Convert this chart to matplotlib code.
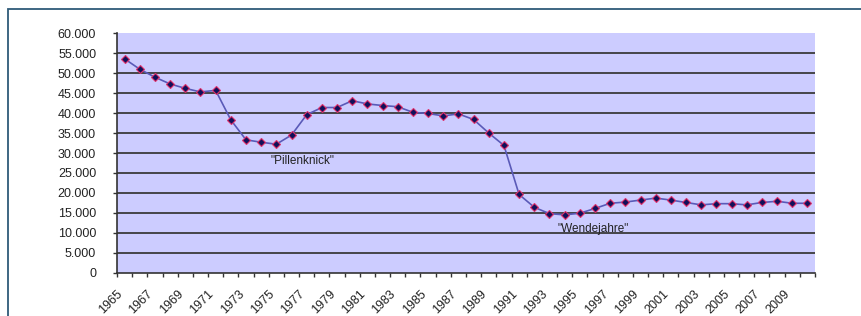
import matplotlib
matplotlib.use("Agg")
import matplotlib.pyplot as plt
from matplotlib.ticker import FuncFormatter, MultipleLocator, FixedLocator
from matplotlib.patches import Rectangle
from matplotlib.transforms import ScaledTranslation

years = list(range(1965, 2011))
births = [53.6, 51.0, 49.0, 47.3, 46.2, 45.3, 45.7, 38.3, 33.3, 32.7, 32.2, 34.5,
          39.6, 41.4, 41.4, 43.1, 42.3, 41.9, 41.6, 40.2, 39.9, 39.3, 39.8, 38.4,
          35.0, 31.9, 19.6, 16.4, 14.8, 14.5, 14.9, 16.1, 17.4, 17.7, 18.2, 18.7,
          18.2, 17.6, 17.0, 17.3, 17.3, 17.0, 17.6, 17.9, 17.4, 17.4]
births = [b * 1000 for b in births]
tick_years = list(range(1965, 2010, 2))
annotations = [("\"Pillenknick\"", 1974.6, 28000), ("\"Wendejahre\"", 1993.5, 11000)]

plt.rcParams['font.family'] = ['Liberation Sans', 'DejaVu Sans']

fig = plt.figure(figsize=(8.61, 3.16), dpi=100)
fig.patches.append(Rectangle((8/861, -0.1), 1.2, 1 - 9/316 + 0.1, transform=fig.transFigure,
                             fill=False, edgecolor='#2f5b78', linewidth=1.3))
ax = fig.add_axes([117/861, 1 - 272.7/316, (815 - 117)/861, (272.7 - 33.3)/316])
ax.set_facecolor('#ccccff')

x = [y - 1965 for y in years]
ax.set_xlim(-0.5, len(years) - 0.5)
ax.set_ylim(0, 60000)

for v in range(5000, 60000, 5000):
    ax.axhline(v, color='#3a3a3a', linewidth=1.3, zorder=1)

ax.plot(x, births, color='#5a5ab8', linewidth=1.2, zorder=2)
ax.plot(x, births, linestyle='none', marker='D', markersize=4.2,
        markerfacecolor='#10105a', markeredgecolor='#e0306a', markeredgewidth=0.8, zorder=3)

for txt, yr, val in annotations:
    ax.text(yr - 1965, val, txt, fontsize=8.5, color='#222222', ha='left', va='center', zorder=4)

ax.yaxis.set_major_locator(MultipleLocator(5000))
ax.yaxis.set_major_formatter(FuncFormatter(lambda v, p: f"{v:,.0f}".replace(',', '.')))
ax.tick_params(axis='y', direction='out', length=3, width=1, color='#333333',
               labelsize=9, labelcolor='#222222', pad=12)

ax.set_xticks([y - 1965 for y in tick_years])
ax.set_xticklabels([str(y) for y in tick_years], rotation=45, ha='right',
                   rotation_mode='anchor', fontsize=9, color='#222222')
ax.tick_params(axis='x', which='major', length=0, pad=8)
offset = ScaledTranslation(-0.08, -0.04, fig.dpi_scale_trans)
for lab in ax.get_xticklabels():
    lab.set_transform(lab.get_transform() + offset)
ax.xaxis.set_minor_locator(FixedLocator([i - 0.5 for i in range(len(years) + 1)]))
ax.tick_params(axis='x', which='minor', direction='out', length=3, width=1, color='#333333')

for s in ['top', 'right']:
    ax.spines[s].set_visible(False)
for s in ['left', 'bottom']:
    ax.spines[s].set_color('#333333')
    ax.spines[s].set_linewidth(1.2)

fig.savefig('out.png', dpi=100)
